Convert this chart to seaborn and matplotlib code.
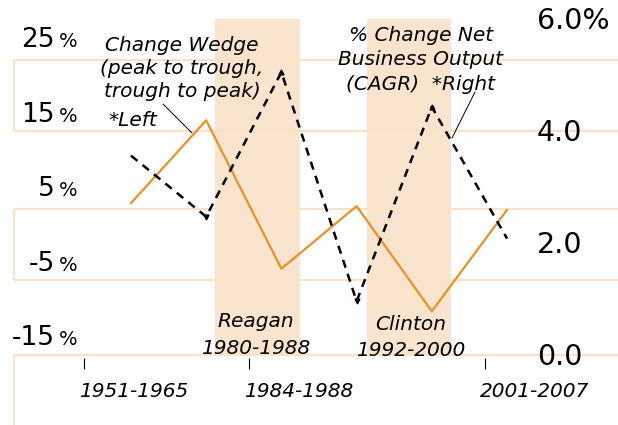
import numpy as np
import pandas as pd
import seaborn as sns
import matplotlib.pyplot as plt

# data
period_pos = [0, 1, 2, 3, 4, 5]
wedge = [2.8, 13.9, -6.0, 2.4, -11.7, 1.9]          # % change wedge, left axis
output = [3.56, 2.47, 5.05, 0.96, 4.43, 2.08]       # % change net business output, right axis
tick_pos = [-0.625, 1.57, 4.71]
tick_labels = ['1951-1965', '1984-1988', '2001-2007']
left_ticks = [25, 15, 5, -5, -15]
right_ticks = [0, 2, 4, 6]
right_labels = ['0.0', '2.0', '4.0', '6.0%']
terms = ['Reagan\n1980-1988', 'Clinton\n1992-2000']
term_spans = [(1.117, 2.247), (3.138, 4.255)]
grid_levels = [22, 12.5, 2, -7.5, -17.5]

ORANGE = '#EC8F25'
BAND = '#F9E4CD'
GRID = '#F9E2C6'

sns.set_theme(style='white')
plt.rcParams['font.family'] = ['DejaVu Sans']
plt.rcParams['text.color'] = 'black'

W, H = 618, 425
fig = plt.figure(figsize=(W / 100, H / 100), dpi=100)
ax = fig.add_axes([0, 0, 1, 1])
ax2 = ax.twinx()

ax.set_xlim(-1.742, 6.476)
ax.set_ylim(-26.94, 30.03)
ax2.set_ylim(-1.25, 6.339)


def fpx(x, y):
    return x / W, 1 - y / H


# shaded presidential terms, 0 - 6 on the right scale
for (x0, x1), name in zip(term_spans, terms):
    ax.fill_between([x0, x1], 0, 6, color=BAND, lw=0, transform=ax2.transData, zorder=0)

# faint box outlines
box_x = -1.556
ax.hlines(grid_levels, box_x, 7, color=GRID, lw=1.5, zorder=1)
for top, bot in [(22, 12.5), (2, -7.5), (-17.5, -30)]:
    ax.vlines(box_x, bot, top, color=GRID, lw=1.5, zorder=1)

df = pd.DataFrame({'pos': period_pos, 'wedge': wedge, 'output': output})
sns.lineplot(data=df, x='pos', y='wedge', ax=ax, color=ORANGE, lw=1.6, zorder=3)
sns.lineplot(data=df, x='pos', y='output', ax=ax2, color='black', lw=1.8,
             linestyle=(0, (3.3, 2.6)), zorder=4)
for i in range(1, 5):
    mk = '^' if output[i] > output[i - 1] else 'v'
    ax2.plot(period_pos[i], output[i], marker=mk, ms=3.5, color='black', zorder=5)

ax.set_xlabel('')
ax.set_ylabel('')
ax2.set_ylabel('')
ax.set_yticks([])
ax2.set_yticks([])
for a in (ax, ax2):
    for s in a.spines.values():
        s.set_color('none')

# x axis ticks floating just under the zero line
ax.spines['bottom'].set_position(('data', -17.96))
ax.set_xticks(tick_pos)
ax.set_xticklabels([])
ax.tick_params(axis='x', direction='out', length=8, width=0.8, color='black',
               bottom=True)
for tp, lab in zip(tick_pos, tick_labels):
    ax.annotate(lab, xy=(tp, 1 - 397 / H), xycoords=('data', 'axes fraction'),
                xytext=(-5, 0), textcoords='offset pixels',
                ha='left', va='baseline', style='italic', fontsize=14.5)

# left scale labels: number + smaller percent sign
for v in left_ticks:
    ax.annotate(f'{v}', xy=(55 / W, v), xycoords=('axes fraction', 'data'),
                xytext=(0, -6.8), textcoords='offset points',
                ha='right', va='baseline', fontsize=19)
    ax.annotate('%', xy=(59 / W, v), xycoords=('axes fraction', 'data'),
                xytext=(0, -6.8), textcoords='offset points',
                ha='left', va='baseline', fontsize=14)

# right scale labels
for v, lab in zip(right_ticks, right_labels):
    ax2.annotate(lab, xy=(537 / W, v), xycoords=('axes fraction', 'data'),
                 xytext=(0, -7.4), textcoords='offset points',
                 ha='left', va='baseline', fontsize=20.5)

# series notes
note = dict(style='italic', fontsize=14.5, va='baseline')
for txt, y in [('Change Wedge', 51), ('(peak to trough,', 74), ('trough to peak)', 97)]:
    fig.text(*fpx(182, y), txt, ha='center', **note)
fig.text(*fpx(108, 126), '*Left', ha='left', **note)
ax.plot([163 / W, 192 / W], [1 - 104 / H, 1 - 133 / H], color='black', lw=0.7,
        transform=ax.transAxes)

for txt, y in [('% Change Net', 41), ('Business Output', 65), ('(CAGR)  *Right', 90)]:
    fig.text(*fpx(421, y), txt, ha='center', **note)
ax.plot([475 / W, 452 / W], [1 - 92 / H, 1 - 138 / H], color='black', lw=0.7,
        transform=ax.transAxes)

for name, cx, ys in [(terms[0], 256, (327, 354)), (terms[1], 411, (330, 356))]:
    for txt, y in zip(name.split('\n'), ys):
        fig.text(*fpx(cx, y), txt, ha='center', **note)

fig.savefig('out.png', dpi=100)
